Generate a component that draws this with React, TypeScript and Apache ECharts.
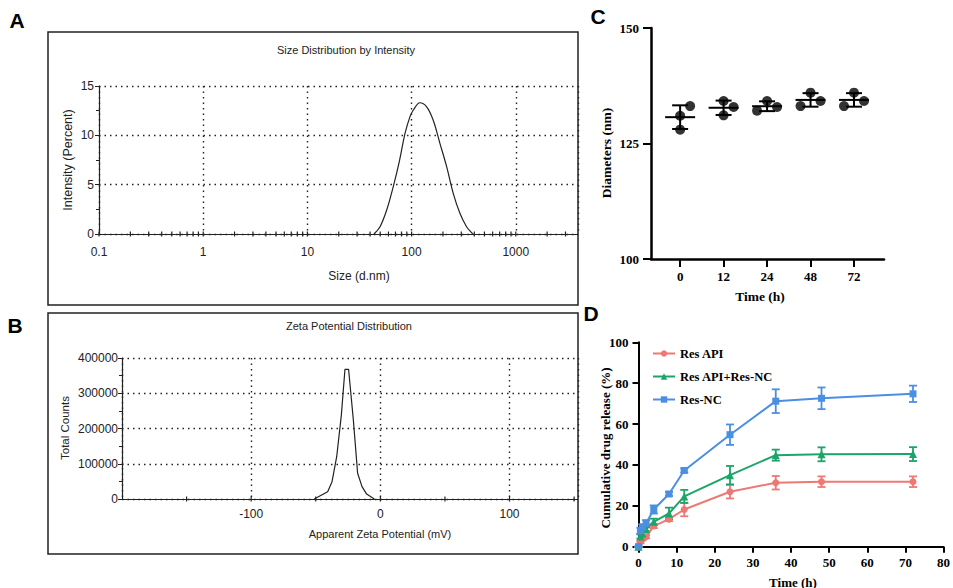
import React, { useEffect, useRef } from "react";
import * as echarts from "echarts";

// ---- Panel A: size distribution by intensity ----
const sizeNm = [43.5, 49.8, 57.7, 66.7, 76.2, 86.5, 96.6, 104, 120, 139, 161, 187, 217, 251, 291, 337, 377, 385];
const intensityPct = [0, 0.74, 2.43, 4.8, 7.33, 10.2, 11.9, 12.57, 13.3, 12.9, 11.55, 9.19, 6.82, 4.12, 2.1, 0.74, 0.13, 0];

// ---- Panel B: zeta potential distribution ----
const zetaMv = [-51.2, -40.8, -37.4, -33.8, -30.2, -27.4, -24.6, -20.9, -17.6, -14.2, -10.6, -4.7];
const zetaCounts = [0, 20700, 49000, 120000, 238000, 368000, 368000, 224000, 73000, 35000, 14000, 0];
const zetaLabels = [-100, 0, 100];

// ---- Panel C: diameters over time (3 replicates) ----
const timeCats = ["0", "12", "24", "48", "72"];
const diamReps = [
  [133.1, 131.0, 128.0],
  [134.2, 132.9, 131.1],
  [132.1, 134.2, 132.9],
  [133.1, 136.0, 134.2],
  [133.1, 136.0, 134.2],
];
const diamJitter = [
  [0.23, 0, 0],
  [0, 0.23, 0],
  [-0.23, 0, 0.23],
  [-0.23, 0, 0.23],
  [-0.23, 0, 0.23],
];

// ---- Panel D: cumulative drug release ----
const releaseTime = [0, 0.5, 1, 2, 4, 8, 12, 24, 36, 48, 72];
const resApi = [0, 2.2, 3.6, 4.9, 10.1, 13.5, 18.2, 26.9, 31.3, 31.8, 31.8];
const resApiSd = [0, 0.5, 0.5, 0.8, 1, 1, 3.3, 3.3, 3.3, 2.6, 2.6];
const resMix = [0, 5, 6.5, 8.5, 12.2, 16.3, 24.6, 35, 44.8, 45.2, 45.3];
const resMixSd = [0, 1, 1, 1, 1.5, 2.8, 3.2, 4.5, 2.7, 3.4, 3.4];
const resNc = [0, 7.8, 9.5, 11.5, 18.2, 25.8, 37.3, 54.8, 71.2, 72.6, 74.8];
const resNcSd = [0, 1.5, 1.5, 1.5, 2, 1, 1, 5, 5.8, 5.3, 4];
const releaseNames = ["Res API", "Res API+Res-NC", "Res-NC"];
const releaseColors = ["#EE7874", "#1DA468", "#4B8FE2"];

const SANS = "'Liberation Sans', Arial, sans-serif";
const SERIF = "'Liberation Serif', 'Times New Roman', serif";
const INK = "#222";

function logTicks(): number[][] {
  const out: number[][] = [];
  for (let e = -1; e <= 3; e++) {
    for (let m = 1; m <= 9; m++) {
      const v = m * Math.pow(10, e);
      if (v <= 3955) out.push([v, m === 1 ? 1 : 0]);
    }
  }
  return out;
}

function txt(text: string, x: number, y: number, size: number, family: string, weight: string, rot = 0, color = INK) {
  return {
    type: "text",
    x,
    y,
    rotation: rot,
    silent: true,
    style: {
      text,
      fontSize: size,
      fontFamily: family,
      fontWeight: weight,
      fill: color,
      align: "center",
      verticalAlign: "middle",
      textAlign: "center",
      textVerticalAlign: "middle",
    },
  };
}

export default function App() {
  const ref = useRef<HTMLDivElement>(null);
  useEffect(() => {
    if (!ref.current) return;
    const chart = echarts.init(ref.current, undefined, { renderer: "svg" });

    const dotted = { type: [1.5, 4], color: INK, width: 1.4 };
    const boxAxisLabel = { color: INK, fontSize: 12, fontFamily: SANS };
    const boldLabel = { color: "#000", fontSize: 13, fontFamily: SERIF, fontWeight: "bold" };

    const meanSd = diamReps.map((r, i) => {
      const m = r.reduce((a, b) => a + b, 0) / r.length;
      const sd = Math.sqrt(r.reduce((a, b) => a + (b - m) * (b - m), 0) / (r.length - 1));
      return [i, m, m - sd, m + sd];
    });
    const dots: number[][] = [];
    diamReps.forEach((r, i) => r.forEach((v, k) => dots.push([i + diamJitter[i][k], v])));

    const relVals = [resApi, resMix, resNc];
    const relSd = [resApiSd, resMixSd, resNcSd];
    const symbols = ["circle", "triangle", "rect"];
    const symSizes = [7, 8, 7];

    const option: any = {
      animation: false,
      grid: [
        { left: 99, top: 86, right: 375, bottom: 354 },
        { left: 122, top: 358, right: 375, bottom: 89 },
        { left: 651, top: 28, right: 69, bottom: 329 },
        { left: 638.5, top: 342.3, right: 7, bottom: 41.3 },
      ],
      xAxis: [
        {
          gridIndex: 0,
          type: "log",
          logBase: 10,
          min: 0.1,
          max: 3955,
          axisLine: { lineStyle: { color: INK, width: 1.2 } },
          axisTick: { show: false },
          axisLabel: {
            ...boxAxisLabel,
            margin: 12,
            formatter: (v: number) => {
              const l = Math.log10(v);
              if (Math.abs(l - Math.round(l)) > 1e-6) return "";
              return v >= 1 ? String(Math.round(v)) : String(v);
            },
          },
          splitLine: { show: true, lineStyle: dotted },
        },
        {
          gridIndex: 1,
          type: "value",
          min: -200,
          max: 153,
          interval: 100,
          axisLine: { onZero: false, lineStyle: { color: INK, width: 1.2 } },
          axisTick: { show: false },
          axisLabel: {
            ...boxAxisLabel,
            margin: 9,
            formatter: (v: number) => (zetaLabels.indexOf(v) >= 0 ? String(v) : ""),
          },
          splitLine: { show: true, lineStyle: dotted },
        },
        {
          gridIndex: 2,
          type: "value",
          min: -0.67,
          max: 4.69,
          axisLine: { onZero: false, lineStyle: { color: "#000", width: 2.5 } },
          axisTick: { show: true, customValues: [0, 1, 2, 3, 4], length: 8, lineStyle: { color: "#000", width: 2 } },
          axisLabel: { ...boldLabel, customValues: [0, 1, 2, 3, 4], margin: 11, formatter: (v: number) => timeCats[Math.round(v)] },
          splitLine: { show: false },
        },
        {
          gridIndex: 3,
          type: "value",
          min: 0,
          max: 80,
          interval: 10,
          axisLine: { onZero: false, lineStyle: { color: "#000", width: 2 } },
          axisTick: { show: true, length: 6, lineStyle: { color: "#000", width: 2 } },
          axisLabel: { ...boldLabel, margin: 9 },
          splitLine: { show: false },
        },
      ],
      yAxis: [
        {
          gridIndex: 0,
          type: "value",
          min: 0,
          max: 15,
          interval: 5,
          axisLine: { show: true, onZero: false, lineStyle: { color: INK, width: 1.2 } },
          axisTick: { show: true, length: 4, lineStyle: { color: INK } },
          minorTick: { show: true, splitNumber: 2, length: 3, lineStyle: { color: INK } },
          axisLabel: { ...boxAxisLabel, margin: 5 },
          splitLine: { show: true, lineStyle: dotted },
        },
        {
          gridIndex: 1,
          type: "value",
          min: 0,
          max: 400000,
          interval: 100000,
          axisLine: { show: true, onZero: false, lineStyle: { color: INK, width: 1.2 } },
          axisTick: { show: true, length: 4, lineStyle: { color: INK } },
          minorTick: { show: true, splitNumber: 2, length: 3, lineStyle: { color: INK } },
          axisLabel: { ...boxAxisLabel, margin: 4, formatter: (v: number) => String(v) },
          splitLine: { show: true, lineStyle: dotted },
        },
        {
          gridIndex: 2,
          type: "value",
          min: 100,
          max: 150,
          interval: 25,
          axisLine: { show: true, onZero: false, lineStyle: { color: "#000", width: 2.5 } },
          axisTick: { show: true, length: 8, lineStyle: { color: "#000", width: 2 } },
          axisLabel: { ...boldLabel, margin: 12 },
          splitLine: { show: false },
        },
        {
          gridIndex: 3,
          type: "value",
          min: 0,
          max: 100,
          interval: 20,
          axisLine: { show: true, onZero: false, lineStyle: { color: "#000", width: 2 } },
          axisTick: { show: true, length: 6, lineStyle: { color: "#000", width: 2 } },
          axisLabel: { ...boldLabel, margin: 10 },
          splitLine: { show: false },
        },
      ],
      legend: {
        data: releaseNames,
        orient: "vertical",
        left: 647,
        top: 342,
        itemWidth: 22,
        itemHeight: 8,
        itemGap: 10,
        textStyle: { color: "#000", fontSize: 12.5, fontFamily: SERIF, fontWeight: "bold" },
      },
      series: [
        {
          type: "line",
          xAxisIndex: 0,
          yAxisIndex: 0,
          data: sizeNm.map((s, i) => [s, intensityPct[i]]),
          smooth: 0.35,
          symbol: "none",
          lineStyle: { color: INK, width: 1.2 },
          silent: true,
        },
        {
          type: "custom",
          xAxisIndex: 0,
          yAxisIndex: 0,
          data: logTicks(),
          encode: { x: 0, y: 1 },
          clip: false,
          silent: true,
          renderItem: (params: any, api: any) => {
            const p = api.coord([api.value(0), 0]);
            return {
              type: "line",
              shape: { x1: p[0], y1: p[1] - 2.5, x2: p[0], y2: p[1] + 2.5 },
              style: { stroke: INK, lineWidth: 1.2 },
            };
          },
        },
        {
          type: "line",
          xAxisIndex: 1,
          yAxisIndex: 1,
          data: zetaMv.map((z, i) => [z, zetaCounts[i]]),
          symbol: "none",
          lineStyle: { color: INK, width: 1.2 },
          silent: true,
        },
        {
          type: "custom",
          xAxisIndex: 1,
          yAxisIndex: 1,
          data: [-150, -100, -50, 0, 50, 100, 150].map((v) => [v, 0]),
          encode: { x: 0, y: 1 },
          clip: false,
          silent: true,
          renderItem: (params: any, api: any) => {
            const p = api.coord([api.value(0), 0]);
            return {
              type: "line",
              shape: { x1: p[0], y1: p[1] - 2.5, x2: p[0], y2: p[1] + 2.5 },
              style: { stroke: INK, lineWidth: 1.2 },
            };
          },
        },
        {
          type: "custom",
          xAxisIndex: 2,
          yAxisIndex: 2,
          data: meanSd,
          encode: { x: 0, y: [1, 2, 3] },
          silent: true,
          z: 3,
          renderItem: (params: any, api: any) => {
            const i = api.value(0);
            const pm = api.coord([i, api.value(1)]);
            const pl = api.coord([i, api.value(2)]);
            const ph = api.coord([i, api.value(3)]);
            const st = { stroke: "#000", lineWidth: 2 };
            return {
              type: "group",
              children: [
                { type: "line", shape: { x1: pm[0] - 15, y1: pm[1], x2: pm[0] + 15, y2: pm[1] }, style: st },
                { type: "line", shape: { x1: ph[0], y1: ph[1], x2: pl[0], y2: pl[1] }, style: st },
                { type: "line", shape: { x1: ph[0] - 8, y1: ph[1], x2: ph[0] + 8, y2: ph[1] }, style: st },
                { type: "line", shape: { x1: pl[0] - 8, y1: pl[1], x2: pl[0] + 8, y2: pl[1] }, style: st },
              ],
            };
          },
        },
        {
          type: "scatter",
          xAxisIndex: 2,
          yAxisIndex: 2,
          data: dots,
          symbolSize: 10,
          itemStyle: { color: "#000" },
          silent: true,
          z: 4,
        },
        ...relVals.map((vals, k) => ({
          type: "custom",
          xAxisIndex: 3,
          yAxisIndex: 3,
          data: releaseTime.map((t, i) => [t, vals[i] - relSd[k][i], vals[i] + relSd[k][i]]),
          encode: { x: 0, y: [1, 2] },
          silent: true,
          z: 2,
          renderItem: (params: any, api: any) => {
            const lo = api.coord([api.value(0), api.value(1)]);
            const hi = api.coord([api.value(0), api.value(2)]);
            const st = { stroke: releaseColors[k], lineWidth: 1.8 };
            return {
              type: "group",
              children: [
                { type: "line", shape: { x1: lo[0], y1: lo[1], x2: hi[0], y2: hi[1] }, style: st },
                { type: "line", shape: { x1: hi[0] - 4, y1: hi[1], x2: hi[0] + 4, y2: hi[1] }, style: st },
                { type: "line", shape: { x1: lo[0] - 4, y1: lo[1], x2: lo[0] + 4, y2: lo[1] }, style: st },
              ],
            };
          },
        })),
        ...relVals.map((vals, k) => ({
          type: "line",
          name: releaseNames[k],
          xAxisIndex: 3,
          yAxisIndex: 3,
          data: releaseTime.map((t, i) => [t, vals[i]]),
          symbol: symbols[k],
          symbolSize: symSizes[k],
          showAllSymbol: true,
          color: releaseColors[k],
          lineStyle: { color: releaseColors[k], width: 2 },
          itemStyle: { color: releaseColors[k] },
          z: 3,
        })),
      ],
      graphic: [
        { type: "rect", shape: { x: 48, y: 32, width: 530, height: 273 }, style: { fill: "none", stroke: INK, lineWidth: 1.5 }, silent: true },
        { type: "rect", shape: { x: 48, y: 313, width: 530, height: 241 }, style: { fill: "none", stroke: INK, lineWidth: 1.5 }, silent: true },
        txt("A", 17, 20, 21, SANS, "bold", 0, "#000"),
        txt("B", 15, 325, 21, SANS, "bold", 0, "#000"),
        txt("C", 598, 16, 21, SANS, "bold", 0, "#000"),
        txt("D", 591, 313, 21, SANS, "bold", 0, "#000"),
        txt("Size Distribution by Intensity", 346, 50, 11, SANS, "normal"),
        txt("Size (d.nm)", 359, 276, 12, SANS, "normal"),
        txt("Intensity (Percent)", 68, 160, 12.5, SANS, "normal", Math.PI / 2),
        txt("Zeta Potential Distribution", 349, 326, 11, SANS, "normal"),
        txt("Apparent Zeta Potential (mV)", 380, 534, 11, SANS, "normal"),
        txt("Total Counts", 65, 428, 11.5, SANS, "normal", Math.PI / 2),
        txt("Diameters (nm)", 606, 153, 13.5, SERIF, "bold", Math.PI / 2, "#000"),
        txt("Time (h)", 760, 296, 13.5, SERIF, "bold", 0, "#000"),
        txt("Cumulative drug release (%)", 605, 448, 13, SERIF, "bold", Math.PI / 2, "#000"),
        txt("Time (h)", 793, 582, 13, SERIF, "bold", 0, "#000"),
      ],
    };
    chart.setOption(option);
    return () => chart.dispose();
  }, []);
  return <div ref={ref} style={{ position: "fixed", left: 0, top: 0, width: 953, height: 588, background: "#fff" }} />;
}
